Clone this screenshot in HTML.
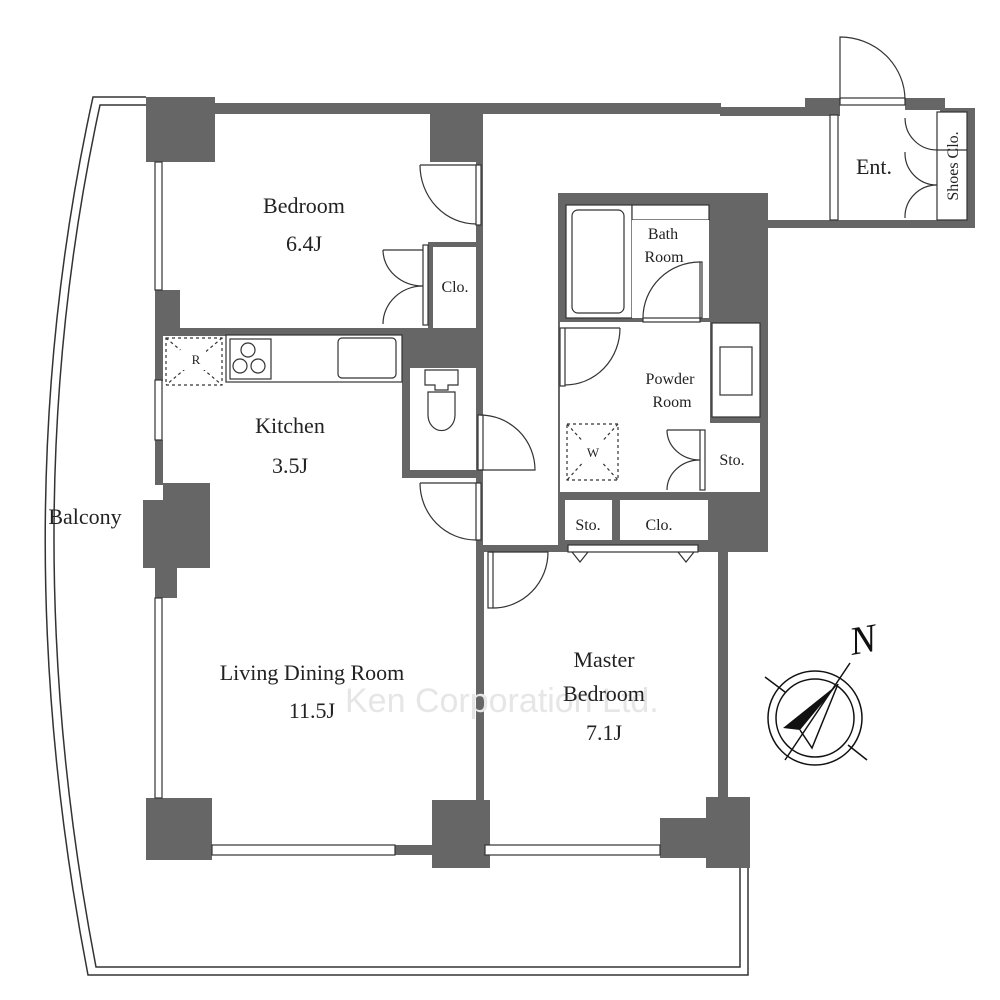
<!DOCTYPE html>
<html><head><meta charset="utf-8"><style>
html,body{margin:0;padding:0;background:#fff;}
svg{display:block;}
text{font-family:"Liberation Serif",serif;fill:#222;}
</style></head><body>
<svg width="1000" height="1000" viewBox="0 0 1000 1000" xmlns="http://www.w3.org/2000/svg">
<g fill="none" stroke="#333" stroke-width="1.5">
<path d="M146,97 L93,97 Q0,520 88,975 L748,975 L748,868"/>
<path d="M146,105 L100,105 Q10,520 96,967 L740,967 L740,868"/>
</g>
<g fill="#666">
<rect x="146" y="103" width="575" height="11"/>
<rect x="720" y="107" width="120" height="9"/>
<rect x="805" y="98" width="35" height="18"/>
<rect x="905" y="98" width="40" height="12"/>
<rect x="940" y="108" width="35" height="6"/>
<rect x="967" y="108" width="8" height="120"/>
<rect x="768" y="220" width="207" height="8"/>
<rect x="146" y="97" width="69" height="65"/>
<rect x="430" y="112" width="52" height="50"/>
<rect x="155" y="290" width="25" height="40"/>
<rect x="155" y="328" width="325" height="8"/>
<rect x="476" y="112" width="7" height="440"/>
<rect x="402" y="335" width="80" height="33"/>
<rect x="402" y="368" width="8" height="110"/>
<rect x="402" y="470" width="78" height="8"/>
<rect x="428" y="242" width="5" height="86"/>
<rect x="428" y="242" width="50" height="5"/>
<rect x="155" y="336" width="8" height="45"/>
<rect x="155" y="440" width="8" height="45"/>
<rect x="163" y="483" width="47" height="85"/>
<rect x="143" y="500" width="25" height="68"/>
<rect x="155" y="566" width="22" height="32"/>
<rect x="146" y="798" width="66" height="62"/>
<rect x="432" y="800" width="58" height="68"/>
<rect x="476" y="545" width="8" height="255"/>
<rect x="476" y="545" width="90" height="7"/>
<rect x="718" y="545" width="10" height="255"/>
<rect x="706" y="797" width="44" height="71"/>
<rect x="660" y="818" width="50" height="40"/>
<rect x="395" y="845" width="40" height="10"/>
<rect x="558" y="193" width="210" height="359"/>
</g>
<g fill="#fff" stroke="#333" stroke-width="1.2">
<rect x="566" y="205" width="66" height="113"/>
<rect x="572" y="210" width="52" height="103" rx="6"/>
<rect x="632" y="205" width="77" height="15"/>
<rect x="632" y="220" width="77" height="98" stroke="none"/>
<rect x="560" y="322" width="150" height="170" stroke="none"/>
<rect x="712" y="323" width="48" height="94"/>
<rect x="720" y="347" width="32" height="48"/>
<rect x="706" y="423" width="54" height="69" stroke="none"/>
<rect x="565" y="500" width="47" height="40" stroke="none"/>
<rect x="620" y="500" width="88" height="40" stroke="none"/>
<rect x="568" y="545" width="130" height="7"/>
<rect x="155" y="162" width="7" height="128"/>
<rect x="155" y="380" width="7" height="60"/>
<rect x="155" y="598" width="7" height="200"/>
<rect x="212" y="845" width="183" height="10"/>
<rect x="485" y="845" width="175" height="10"/>
<rect x="830" y="115" width="8" height="105"/>
<rect x="840" y="98" width="65" height="7"/>
<rect x="937" y="112" width="30" height="108"/>
<line x1="937" y1="150" x2="967" y2="150"/>
<rect x="423" y="245" width="5" height="80"/>
<rect x="226" y="335" width="176" height="47"/>
<rect x="230" y="339" width="41" height="40"/>
<rect x="338" y="338" width="58" height="40" rx="4"/>
<path d="M425,370 L458,370 L458,385 L448,385 L448,390 L435,390 L435,385 L425,385 Z"/>
<path d="M428,392 L455,392 L455,415 A13,15 0 0 1 428,415 Z"/>
<rect x="476" y="165" width="5" height="60"/>
<rect x="478" y="415" width="5" height="55"/>
<rect x="476" y="483" width="5" height="57"/>
<rect x="488" y="552" width="5" height="56"/>
<rect x="560" y="328" width="5" height="58"/>
<rect x="643" y="318" width="57" height="4"/>
<rect x="700" y="262" width="2" height="56"/>
<rect x="700" y="430" width="5" height="60"/>
</g>
<g fill="none" stroke="#333" stroke-width="1.2">
<path d="M420,165 L476,165 M420,165 A56,59 0 0 0 476,224"/>
<path d="M480,415 A55,55 0 0 1 535,470 L480,470"/>
<path d="M420,483 L476,483 M420,483 A56,57 0 0 0 476,540"/>
<path d="M493,608 A55,56 0 0 0 548,552 L490,552"/>
<path d="M620,328 L565,328 M620,328 A55,57 0 0 1 565,385"/>
<path d="M643,318 A57,56 0 0 1 700,262"/>
<path d="M840,100 L840,37 A65,63 0 0 1 905,100"/>
<path d="M383,250 L423,250 M383,250 A40,36 0 0 0 423,286 A40,38 0 0 0 383,324"/>
<path d="M667,430 L700,430 M667,430 A33,30 0 0 0 700,460 A33,30 0 0 0 667,490"/>
<path d="M905,118 A32,32 0 0 0 937,150"/>
<path d="M905,152 A32,32 0 0 0 937,185 A32,32 0 0 0 905,218"/>
<circle cx="248" cy="350" r="7"/><circle cx="240" cy="366" r="7"/><circle cx="258" cy="366" r="7"/>
<path d="M572,552 L580,562 L588,552 M678,552 L686,562 L694,552"/>
<g stroke-dasharray="3,3">
<rect x="166" y="338" width="56" height="47"/>
<path d="M166,338 L222,385 M222,338 L166,385"/>
<rect x="567" y="424" width="51" height="56"/>
<path d="M567,424 L618,480 M618,424 L567,480"/>
</g>
</g>
<g fill="#fff" stroke="none">
<rect x="180" y="350" width="26" height="20"/>
<rect x="580" y="440" width="26" height="22"/>
</g>
<g stroke="#111" stroke-width="1.5" fill="none">
<circle cx="815" cy="718" r="47"/>
<circle cx="815" cy="718" r="39"/>
<line x1="765" y1="677" x2="785" y2="692"/>
<line x1="848" y1="745" x2="867" y2="760"/>
<line x1="785" y1="760" x2="850" y2="663"/>
<path d="M838,684 L812,748 L800,730"/>
</g>
<path d="M838,684 L783,728 L800,730 Z" fill="#111"/>
<text x="0" y="0" font-size="40" font-style="italic" transform="translate(852,655) rotate(-10)" style="fill:#111">N</text>
<text x="345" y="712" font-size="34" style="fill:#e6e6e6;font-family:'Liberation Sans',sans-serif">Ken Corporation Ltd.</text>
<g font-size="22" text-anchor="middle">
<text x="304" y="213">Bedroom</text>
<text x="304" y="251">6.4J</text>
<text x="290" y="433">Kitchen</text>
<text x="290" y="473">3.5J</text>
<text x="312" y="680">Living Dining Room</text>
<text x="312" y="718">11.5J</text>
<text x="604" y="667">Master</text>
<text x="604" y="701">Bedroom</text>
<text x="604" y="740">7.1J</text>
<text x="85" y="524">Balcony</text>
<text x="874" y="174">Ent.</text>
</g>
<g font-size="16" text-anchor="middle">
<text x="455" y="292">Clo.</text>
<text x="663" y="239">Bath</text>
<text x="664" y="262">Room</text>
<text x="670" y="384">Powder</text>
<text x="672" y="407">Room</text>
<text x="732" y="465">Sto.</text>
<text x="588" y="530">Sto.</text>
<text x="659" y="530">Clo.</text>
<text x="196" y="364" font-size="13">R</text>
<text x="593" y="457" font-size="13">W</text>
<text x="0" y="0" transform="translate(958,166) rotate(-90)">Shoes Clo.</text>
</g>
</svg>
</body></html>
